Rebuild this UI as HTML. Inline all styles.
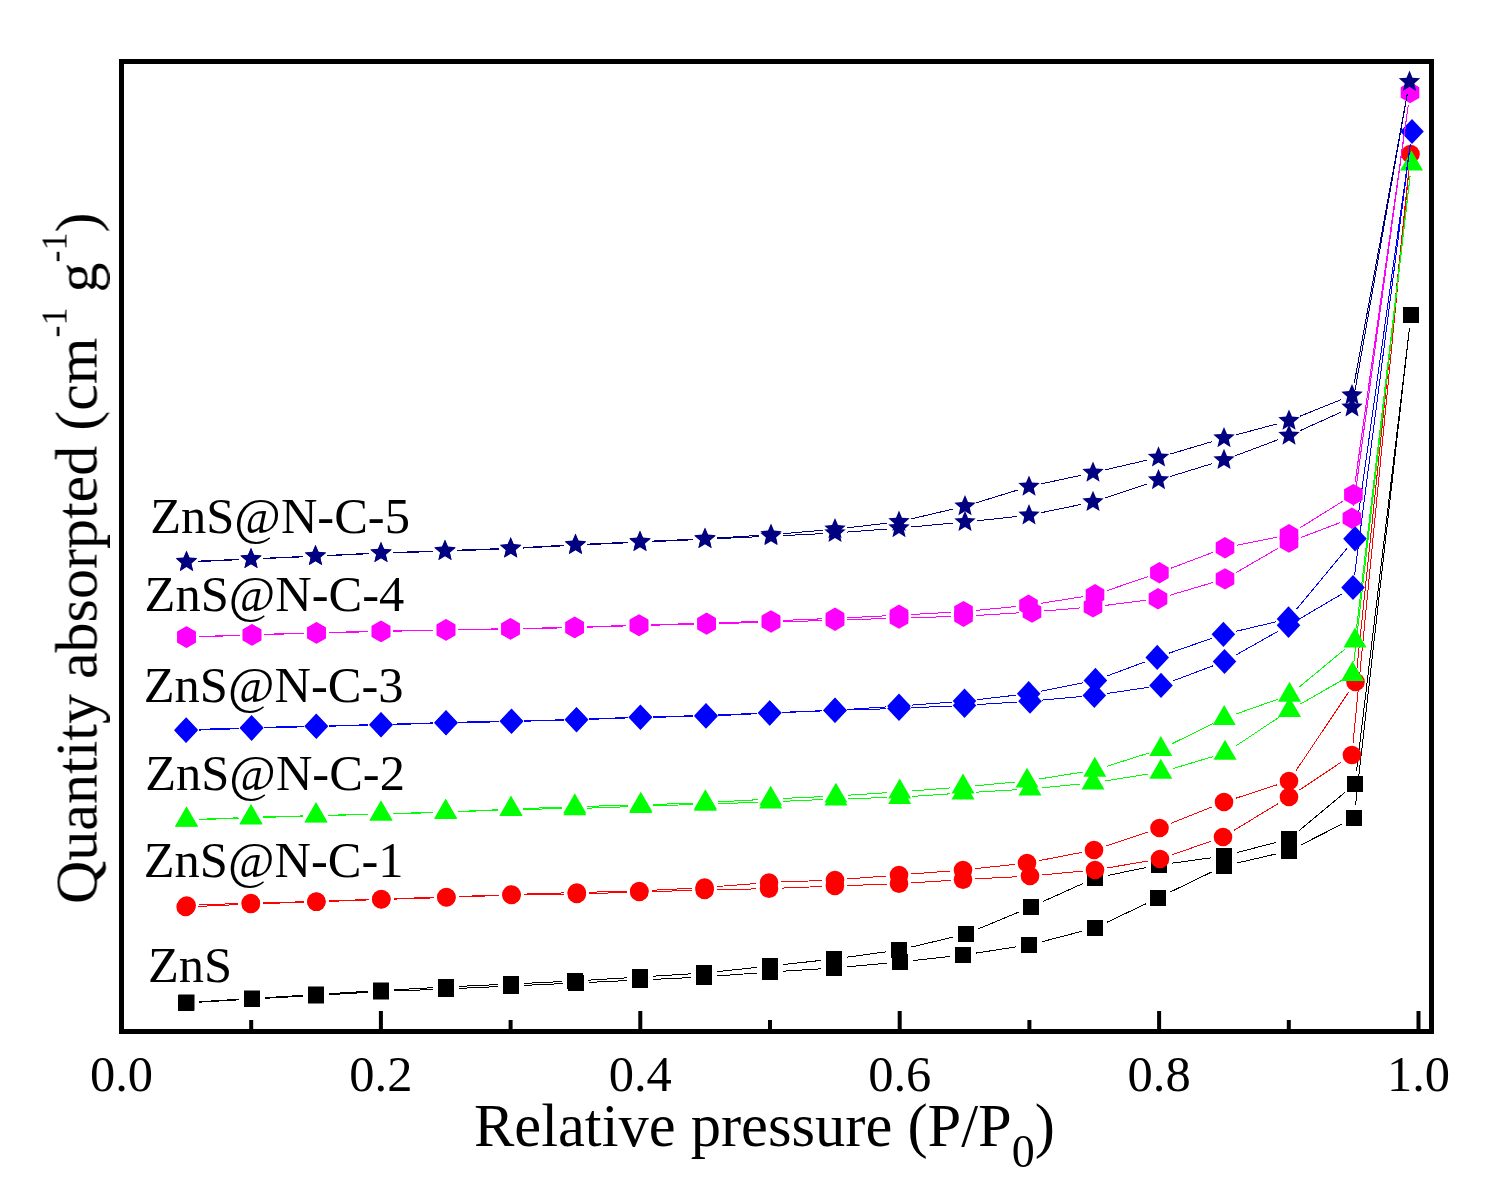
<!DOCTYPE html>
<html><head><meta charset="utf-8"><style>html,body{margin:0;padding:0;background:#fff;overflow:hidden}svg{display:block}</style></head>
<body><svg width="1493" height="1188" viewBox="0 0 1493 1188">
<rect width="1493" height="1188" fill="#fff"/>
<path d="M199.0 1002.2L239.0 999.8M265.0 998.3L303.0 996.2M329.0 994.7L368.0 992.3M394.0 991.0L433.0 989.5M459.0 988.4L498.0 986.6M524.0 985.4L563.0 983.6M589.0 982.4L627.0 980.6M653.0 979.4L691.0 977.6M717.0 976.0L757.0 973.0M783.0 971.2L821.0 968.8M846.9 966.8L887.1 963.2M912.9 960.6L950.1 956.4M975.9 953.1L1016.1 946.9M1041.6 941.8L1082.4 931.2M1106.7 922.4L1146.3 903.6M1169.7 892.3L1212.3 871.7M1236.7 863.1L1276.3 853.9M1300.6 845.1L1342.4 823.9M1355.5 805.1L1409.5 327.9M1409.5 327.9L1356.5 771.1M1345.0 792.3L1299.0 830.7M1276.4 842.3L1236.6 852.7M1211.1 857.8L1171.9 863.2M1146.3 867.6L1107.7 875.4M1083.2 883.4L1042.8 901.6M1019.0 912.0L978.0 929.0M953.4 937.0L911.6 947.0M886.1 951.8L846.9 957.2M821.1 960.4L782.9 964.6M757.1 967.4L716.9 971.6M691.0 973.8L653.0 976.2M627.0 977.8L588.0 980.2M562.0 981.6L524.0 983.4M498.0 984.6L459.0 986.4M433.0 987.7L394.0 989.8M368.0 991.3L329.0 993.7M303.0 995.3L265.0 997.7M239.0 999.3L199.5 1001.7" stroke="#000000" stroke-width="1.0" fill="none" shape-rendering="crispEdges"/><rect x="178.0" y="995.0" width="16" height="16" fill="#000000"/><rect x="244.0" y="991.0" width="16" height="16" fill="#000000"/><rect x="308.0" y="987.5" width="16" height="16" fill="#000000"/><rect x="373.0" y="983.5" width="16" height="16" fill="#000000"/><rect x="438.0" y="981.0" width="16" height="16" fill="#000000"/><rect x="503.0" y="978.0" width="16" height="16" fill="#000000"/><rect x="568.0" y="975.0" width="16" height="16" fill="#000000"/><rect x="632.0" y="972.0" width="16" height="16" fill="#000000"/><rect x="696.0" y="969.0" width="16" height="16" fill="#000000"/><rect x="762.0" y="964.0" width="16" height="16" fill="#000000"/><rect x="826.0" y="960.0" width="16" height="16" fill="#000000"/><rect x="892.0" y="954.0" width="16" height="16" fill="#000000"/><rect x="955.0" y="947.0" width="16" height="16" fill="#000000"/><rect x="1021.0" y="937.0" width="16" height="16" fill="#000000"/><rect x="1087.0" y="920.0" width="16" height="16" fill="#000000"/><rect x="1150.0" y="890.0" width="16" height="16" fill="#000000"/><rect x="1216.0" y="858.0" width="16" height="16" fill="#000000"/><rect x="1281.0" y="843.0" width="16" height="16" fill="#000000"/><rect x="1346.0" y="810.0" width="16" height="16" fill="#000000"/><rect x="1403.0" y="307.0" width="16" height="16" fill="#000000"/><rect x="1347.0" y="776.0" width="16" height="16" fill="#000000"/><rect x="1281.0" y="831.0" width="16" height="16" fill="#000000"/><rect x="1216.0" y="848.0" width="16" height="16" fill="#000000"/><rect x="1151.0" y="857.0" width="16" height="16" fill="#000000"/><rect x="1087.0" y="870.0" width="16" height="16" fill="#000000"/><rect x="1023.0" y="899.0" width="16" height="16" fill="#000000"/><rect x="958.0" y="926.0" width="16" height="16" fill="#000000"/><rect x="891.0" y="942.0" width="16" height="16" fill="#000000"/><rect x="826.0" y="951.0" width="16" height="16" fill="#000000"/><rect x="762.0" y="958.0" width="16" height="16" fill="#000000"/><rect x="696.0" y="965.0" width="16" height="16" fill="#000000"/><rect x="632.0" y="969.0" width="16" height="16" fill="#000000"/><rect x="567.0" y="973.0" width="16" height="16" fill="#000000"/><rect x="503.0" y="976.0" width="16" height="16" fill="#000000"/><rect x="438.0" y="979.0" width="16" height="16" fill="#000000"/><rect x="373.0" y="982.5" width="16" height="16" fill="#000000"/><rect x="308.0" y="986.5" width="16" height="16" fill="#000000"/><rect x="244.0" y="990.5" width="16" height="16" fill="#000000"/><rect x="178.5" y="994.5" width="16" height="16" fill="#000000"/><path d="M198.2 906.4L238.3 904.6M263.3 903.6L303.9 902.2M328.9 901.4L368.8 899.9M393.8 899.1L433.9 897.9M458.9 897.0L499.0 895.5M524.0 894.8L564.3 894.2M589.3 893.6L626.8 892.4M651.8 891.6L692.1 890.4M717.1 889.7L756.5 888.9M781.5 888.1L822.4 886.5M847.4 885.6L886.5 884.1M911.5 882.9L950.5 880.4M975.5 878.9L1017.5 876.7M1042.4 874.9L1082.6 871.1M1107.3 867.9L1147.7 861.1M1171.8 854.9L1211.2 841.1M1233.7 830.5L1278.3 803.5M1299.4 790.1L1341.5 761.9M1353.1 742.6L1409.3 166.4M1409.2 166.4L1356.8 669.6M1348.5 692.4L1296.0 770.6M1277.1 784.8L1235.9 798.2M1212.4 806.7L1171.1 823.3M1147.7 832.0L1105.8 846.0M1081.7 852.4L1039.3 860.6M1014.6 864.4L975.4 868.6M950.5 871.0L911.5 874.0M886.5 876.0L847.5 879.0M822.5 880.5L781.5 882.0M756.5 883.5L717.1 886.5M692.1 888.2L651.8 890.3M626.8 891.3L589.3 892.2M564.3 892.9L524.0 894.1M499.0 895.0L458.9 896.5M433.9 897.4L393.8 898.6M368.8 899.5L328.9 901.0M303.9 901.8L263.3 902.7M238.3 903.5L199.2 905.0" stroke="#ff0000" stroke-width="1.0" fill="none" shape-rendering="crispEdges"/><circle cx="185.7" cy="907.0" r="9.3" fill="#ff0000"/><circle cx="250.8" cy="904.0" r="9.3" fill="#ff0000"/><circle cx="316.4" cy="901.8" r="9.3" fill="#ff0000"/><circle cx="381.3" cy="899.5" r="9.3" fill="#ff0000"/><circle cx="446.4" cy="897.5" r="9.3" fill="#ff0000"/><circle cx="511.5" cy="895.0" r="9.3" fill="#ff0000"/><circle cx="576.8" cy="894.0" r="9.3" fill="#ff0000"/><circle cx="639.3" cy="892.0" r="9.3" fill="#ff0000"/><circle cx="704.6" cy="890.0" r="9.3" fill="#ff0000"/><circle cx="769.0" cy="888.6" r="9.3" fill="#ff0000"/><circle cx="834.9" cy="886.0" r="9.3" fill="#ff0000"/><circle cx="899.0" cy="883.7" r="9.3" fill="#ff0000"/><circle cx="963.0" cy="879.6" r="9.3" fill="#ff0000"/><circle cx="1030.0" cy="876.0" r="9.3" fill="#ff0000"/><circle cx="1095.0" cy="870.0" r="9.3" fill="#ff0000"/><circle cx="1160.0" cy="859.0" r="9.3" fill="#ff0000"/><circle cx="1223.0" cy="837.0" r="9.3" fill="#ff0000"/><circle cx="1289.0" cy="797.0" r="9.3" fill="#ff0000"/><circle cx="1351.9" cy="755.0" r="9.3" fill="#ff0000"/><circle cx="1410.5" cy="154.0" r="9.3" fill="#ff0000"/><circle cx="1355.5" cy="682.0" r="9.3" fill="#ff0000"/><circle cx="1289.0" cy="781.0" r="9.3" fill="#ff0000"/><circle cx="1224.0" cy="802.0" r="9.3" fill="#ff0000"/><circle cx="1159.5" cy="828.0" r="9.3" fill="#ff0000"/><circle cx="1094.0" cy="850.0" r="9.3" fill="#ff0000"/><circle cx="1027.0" cy="863.0" r="9.3" fill="#ff0000"/><circle cx="963.0" cy="870.0" r="9.3" fill="#ff0000"/><circle cx="899.0" cy="875.0" r="9.3" fill="#ff0000"/><circle cx="835.0" cy="880.0" r="9.3" fill="#ff0000"/><circle cx="769.0" cy="882.5" r="9.3" fill="#ff0000"/><circle cx="704.6" cy="887.5" r="9.3" fill="#ff0000"/><circle cx="639.3" cy="891.0" r="9.3" fill="#ff0000"/><circle cx="576.8" cy="892.5" r="9.3" fill="#ff0000"/><circle cx="511.5" cy="894.5" r="9.3" fill="#ff0000"/><circle cx="446.4" cy="897.0" r="9.3" fill="#ff0000"/><circle cx="381.3" cy="899.0" r="9.3" fill="#ff0000"/><circle cx="316.4" cy="901.5" r="9.3" fill="#ff0000"/><circle cx="250.8" cy="903.0" r="9.3" fill="#ff0000"/><circle cx="186.7" cy="905.5" r="9.3" fill="#ff0000"/><path d="M199.0 819.6L238.5 818.2M263.5 817.4L303.5 816.2M328.5 815.5L368.5 814.4M393.5 813.7L433.2 812.7M458.2 811.8L498.5 810.0M523.5 809.2L562.3 808.8M587.3 808.2L628.3 806.7M653.3 805.9L692.9 804.5M717.9 803.7L758.2 802.3M783.2 801.3L823.4 799.5M848.4 798.6L887.2 797.6M912.2 796.4L950.5 793.8M975.5 792.2L1017.5 789.7M1042.4 787.8L1080.6 784.0M1105.3 780.9L1148.5 774.0M1172.8 768.6L1213.0 756.6M1235.4 746.2L1279.1 717.2M1300.3 704.1L1341.7 680.4M1353.9 661.8L1410.1 176.2M1410.0 176.2L1356.5 628.4M1345.4 648.8L1299.1 687.1M1277.7 699.3L1236.0 714.0M1213.0 723.7L1172.0 743.7M1148.9 753.0L1106.7 766.3M1082.5 772.1L1039.3 779.0M1014.6 782.1L975.4 785.8M950.5 787.9L912.2 790.9M887.2 792.7L848.4 795.2M823.4 796.6L783.2 798.4M758.2 799.7L717.9 801.9M692.9 803.1L653.3 804.5M628.3 805.3L587.3 806.3M562.3 807.1L523.5 808.6M498.5 809.7L458.2 811.5M433.2 812.4L393.5 813.5M368.5 814.1L328.5 815.3M303.5 815.9L263.5 817.0M238.5 817.8L199.0 819.3" stroke="#00ff00" stroke-width="1.0" fill="none" shape-rendering="crispEdges"/><polygon points="186.5,806.8 198.0,826.8 175.0,826.8" fill="#00ff00"/><polygon points="251.0,804.4 262.5,824.4 239.5,824.4" fill="#00ff00"/><polygon points="316.0,802.6 327.5,822.5 304.5,822.5" fill="#00ff00"/><polygon points="381.0,800.7 392.5,820.6 369.5,820.6" fill="#00ff00"/><polygon points="445.7,799.1 457.2,819.0 434.2,819.0" fill="#00ff00"/><polygon points="511.0,796.1 522.5,816.0 499.5,816.0" fill="#00ff00"/><polygon points="574.8,795.3 586.3,815.2 563.3,815.2" fill="#00ff00"/><polygon points="640.8,793.0 652.3,813.0 629.3,813.0" fill="#00ff00"/><polygon points="705.4,790.8 716.9,810.8 693.9,810.8" fill="#00ff00"/><polygon points="770.7,788.6 782.2,808.5 759.2,808.5" fill="#00ff00"/><polygon points="835.9,785.6 847.4,805.5 824.4,805.5" fill="#00ff00"/><polygon points="899.7,784.0 911.2,804.0 888.2,804.0" fill="#00ff00"/><polygon points="963.0,779.6 974.5,799.5 951.5,799.5" fill="#00ff00"/><polygon points="1030.0,775.7 1041.5,795.6 1018.5,795.6" fill="#00ff00"/><polygon points="1093.0,769.5 1104.5,789.5 1081.5,789.5" fill="#00ff00"/><polygon points="1160.8,758.8 1172.3,778.8 1149.3,778.8" fill="#00ff00"/><polygon points="1225.0,739.8 1236.5,759.8 1213.5,759.8" fill="#00ff00"/><polygon points="1289.5,697.0 1301.0,717.0 1278.0,717.0" fill="#00ff00"/><polygon points="1352.5,660.9 1364.0,680.9 1341.0,680.9" fill="#00ff00"/><polygon points="1411.5,150.5 1423.0,170.4 1400.0,170.4" fill="#00ff00"/><polygon points="1355.0,627.5 1366.5,647.4 1343.5,647.4" fill="#00ff00"/><polygon points="1289.5,681.8 1301.0,701.8 1278.0,701.8" fill="#00ff00"/><polygon points="1224.2,704.9 1235.7,724.9 1212.7,724.9" fill="#00ff00"/><polygon points="1160.8,735.9 1172.3,755.9 1149.3,755.9" fill="#00ff00"/><polygon points="1094.8,756.8 1106.3,776.8 1083.3,776.8" fill="#00ff00"/><polygon points="1027.0,767.7 1038.5,787.6 1015.5,787.6" fill="#00ff00"/><polygon points="963.0,773.6 974.5,793.5 951.5,793.5" fill="#00ff00"/><polygon points="899.7,778.6 911.2,798.5 888.2,798.5" fill="#00ff00"/><polygon points="835.9,782.7 847.4,802.6 824.4,802.6" fill="#00ff00"/><polygon points="770.7,785.7 782.2,805.6 759.2,805.6" fill="#00ff00"/><polygon points="705.4,789.3 716.9,809.2 693.9,809.2" fill="#00ff00"/><polygon points="640.8,791.7 652.3,811.6 629.3,811.6" fill="#00ff00"/><polygon points="574.8,793.3 586.3,813.2 563.3,813.2" fill="#00ff00"/><polygon points="511.0,795.8 522.5,815.8 499.5,815.8" fill="#00ff00"/><polygon points="445.7,798.8 457.2,818.8 434.2,818.8" fill="#00ff00"/><polygon points="381.0,800.5 392.5,820.5 369.5,820.5" fill="#00ff00"/><polygon points="316.0,802.3 327.5,822.2 304.5,822.2" fill="#00ff00"/><polygon points="251.0,804.0 262.5,823.9 239.5,823.9" fill="#00ff00"/><polygon points="186.5,806.5 198.0,826.4 175.0,826.4" fill="#00ff00"/><path d="M198.5 730.1L239.1 728.7M264.1 728.0L303.8 726.8M328.8 726.2L368.5 725.2M393.5 724.5L433.5 723.4M458.5 722.7L499.0 721.8M524.0 721.2L564.0 720.1M589.0 719.4L627.9 717.9M652.9 717.3L693.5 716.4M718.5 715.6L757.2 713.7M782.2 712.6L822.5 710.9M847.5 710.0L886.5 708.8M911.5 707.8L952.0 706.0M977.0 704.6L1017.5 702.0M1042.4 700.1L1081.9 696.5M1106.7 693.5L1148.6 687.3M1172.7 681.0L1212.8 665.9M1235.4 655.3L1277.6 631.5M1299.3 619.0L1342.2 593.8M1354.6 575.1L1410.4 143.9M1410.3 143.9L1356.7 526.4M1347.0 548.4L1296.5 609.3M1276.3 621.8L1235.6 631.4M1211.6 638.4L1169.0 653.2M1145.5 661.7L1107.1 676.0M1083.1 682.8L1041.0 691.3M1016.3 695.1L976.9 699.7M952.0 702.1L911.5 705.1M886.5 706.9L847.5 709.4M822.5 710.7L782.2 712.3M757.2 713.3L718.5 715.0M693.5 715.8L652.9 716.7M627.9 717.5L589.0 719.0M564.0 719.8L524.0 720.7M499.0 721.3L458.5 722.2M433.5 722.9L393.5 724.1M368.5 724.8L328.8 725.7M303.8 726.3L264.1 727.3M239.1 728.0L198.7 729.4" stroke="#0000ff" stroke-width="1.0" fill="none" shape-rendering="crispEdges"/><polygon points="186.0,717.9 197.8,730.5 186.0,743.1 174.2,730.5" fill="#0000ff"/><polygon points="251.6,715.7 263.4,728.3 251.6,740.9 239.8,728.3" fill="#0000ff"/><polygon points="316.3,713.9 328.1,726.5 316.3,739.1 304.5,726.5" fill="#0000ff"/><polygon points="381.0,712.3 392.8,724.9 381.0,737.5 369.2,724.9" fill="#0000ff"/><polygon points="446.0,710.4 457.8,723.0 446.0,735.6 434.2,723.0" fill="#0000ff"/><polygon points="511.5,708.9 523.3,721.5 511.5,734.1 499.7,721.5" fill="#0000ff"/><polygon points="576.5,707.2 588.3,719.8 576.5,732.4 564.7,719.8" fill="#0000ff"/><polygon points="640.4,704.9 652.2,717.5 640.4,730.1 628.6,717.5" fill="#0000ff"/><polygon points="706.0,703.6 717.8,716.2 706.0,728.8 694.2,716.2" fill="#0000ff"/><polygon points="769.7,700.5 781.5,713.1 769.7,725.7 757.9,713.1" fill="#0000ff"/><polygon points="835.0,697.8 846.8,710.4 835.0,723.0 823.2,710.4" fill="#0000ff"/><polygon points="899.0,695.8 910.8,708.4 899.0,721.0 887.2,708.4" fill="#0000ff"/><polygon points="964.5,692.8 976.3,705.4 964.5,718.0 952.7,705.4" fill="#0000ff"/><polygon points="1030.0,688.6 1041.8,701.2 1030.0,713.8 1018.2,701.2" fill="#0000ff"/><polygon points="1094.3,682.8 1106.1,695.4 1094.3,708.0 1082.5,695.4" fill="#0000ff"/><polygon points="1161.0,672.8 1172.8,685.4 1161.0,698.0 1149.2,685.4" fill="#0000ff"/><polygon points="1224.5,648.9 1236.3,661.5 1224.5,674.1 1212.7,661.5" fill="#0000ff"/><polygon points="1288.5,612.7 1300.3,625.3 1288.5,637.9 1276.7,625.3" fill="#0000ff"/><polygon points="1353.0,574.9 1364.8,587.5 1353.0,600.1 1341.2,587.5" fill="#0000ff"/><polygon points="1412.0,118.9 1423.8,131.5 1412.0,144.1 1400.2,131.5" fill="#0000ff"/><polygon points="1355.0,526.1 1366.8,538.8 1355.0,551.4 1343.2,538.8" fill="#0000ff"/><polygon points="1288.5,606.3 1300.3,618.9 1288.5,631.5 1276.7,618.9" fill="#0000ff"/><polygon points="1223.4,621.7 1235.2,634.3 1223.4,646.9 1211.6,634.3" fill="#0000ff"/><polygon points="1157.2,644.8 1169.0,657.4 1157.2,670.0 1145.4,657.4" fill="#0000ff"/><polygon points="1095.4,667.8 1107.2,680.4 1095.4,693.0 1083.6,680.4" fill="#0000ff"/><polygon points="1028.7,681.1 1040.5,693.7 1028.7,706.3 1016.9,693.7" fill="#0000ff"/><polygon points="964.5,688.5 976.3,701.1 964.5,713.7 952.7,701.1" fill="#0000ff"/><polygon points="899.0,693.5 910.8,706.1 899.0,718.7 887.2,706.1" fill="#0000ff"/><polygon points="835.0,697.6 846.8,710.2 835.0,722.8 823.2,710.2" fill="#0000ff"/><polygon points="769.7,700.2 781.5,712.8 769.7,725.4 757.9,712.8" fill="#0000ff"/><polygon points="706.0,702.9 717.8,715.5 706.0,728.1 694.2,715.5" fill="#0000ff"/><polygon points="640.4,704.4 652.2,717.0 640.4,729.6 628.6,717.0" fill="#0000ff"/><polygon points="576.5,706.9 588.3,719.5 576.5,732.1 564.7,719.5" fill="#0000ff"/><polygon points="511.5,708.4 523.3,721.0 511.5,733.6 499.7,721.0" fill="#0000ff"/><polygon points="446.0,709.9 457.8,722.5 446.0,735.1 434.2,722.5" fill="#0000ff"/><polygon points="381.0,711.9 392.8,724.5 381.0,737.1 369.2,724.5" fill="#0000ff"/><polygon points="316.3,713.4 328.1,726.0 316.3,738.6 304.5,726.0" fill="#0000ff"/><polygon points="251.6,715.0 263.4,727.6 251.6,740.2 239.8,727.6" fill="#0000ff"/><polygon points="186.2,717.2 198.0,729.8 186.2,742.4 174.4,729.8" fill="#0000ff"/><path d="M199.0 636.9L239.5 635.4M264.5 634.6L304.0 633.4M329.0 632.7L368.5 631.8M393.5 631.2L433.5 630.3M458.5 629.8L498.0 629.2M523.0 628.7L562.2 627.9M587.2 627.2L626.5 625.9M651.5 625.2L694.1 624.3M719.1 623.6L758.5 622.4M783.5 621.7L822.5 620.6M847.5 619.9L886.5 618.4M911.5 617.7L951.0 616.6M976.0 615.5L1019.5 612.8M1044.5 611.0L1080.5 607.9M1105.4 605.4L1145.6 600.3M1170.0 595.2L1213.0 582.5M1235.8 572.7L1278.2 548.2M1300.7 537.6L1340.2 522.6M1353.6 505.8L1408.3 104.9M1408.3 104.9L1355.1 482.2M1342.8 501.2L1299.6 528.1M1276.8 537.2L1237.2 545.2M1213.3 552.2L1171.1 568.2M1147.6 576.7L1106.8 590.7M1082.7 596.7L1040.8 603.3M1016.1 606.5L975.9 610.4M951.0 612.3L911.5 614.5M886.5 615.8L847.5 617.7M822.5 618.8L783.5 620.4M758.5 621.4L719.1 622.8M694.1 623.6L651.5 624.7M626.5 625.4L587.2 626.9M562.2 627.6L523.0 628.4M498.0 628.9L458.5 629.5M433.5 630.0L393.5 630.9M368.5 631.5L329.0 632.4M304.0 633.1L264.5 634.3M239.5 635.1L199.0 636.6" stroke="#ff00ff" stroke-width="1.0" fill="none" shape-rendering="crispEdges"/><polygon points="186.5,626.6 177.2,631.9 177.2,642.6 186.5,648.0 195.8,642.6 195.8,631.9" fill="#ff00ff"/><polygon points="252.0,624.3 242.7,629.6 242.7,640.4 252.0,645.7 261.3,640.4 261.3,629.6" fill="#ff00ff"/><polygon points="316.5,622.3 307.2,627.6 307.2,638.4 316.5,643.7 325.8,638.4 325.8,627.6" fill="#ff00ff"/><polygon points="381.0,620.8 371.7,626.1 371.7,636.9 381.0,642.2 390.3,636.9 390.3,626.1" fill="#ff00ff"/><polygon points="446.0,619.3 436.7,624.6 436.7,635.4 446.0,640.7 455.3,635.4 455.3,624.6" fill="#ff00ff"/><polygon points="510.5,618.3 501.2,623.6 501.2,634.4 510.5,639.7 519.8,634.4 519.8,623.6" fill="#ff00ff"/><polygon points="574.7,616.9 565.4,622.2 565.4,633.0 574.7,638.3 584.0,633.0 584.0,622.2" fill="#ff00ff"/><polygon points="639.0,614.8 629.7,620.1 629.7,630.9 639.0,636.2 648.3,630.9 648.3,620.1" fill="#ff00ff"/><polygon points="706.6,613.3 697.3,618.6 697.3,629.4 706.6,634.7 715.9,629.4 715.9,618.6" fill="#ff00ff"/><polygon points="771.0,611.3 761.7,616.6 761.7,627.4 771.0,632.7 780.3,627.4 780.3,616.6" fill="#ff00ff"/><polygon points="835.0,609.6 825.7,614.9 825.7,625.6 835.0,631.0 844.3,625.6 844.3,614.9" fill="#ff00ff"/><polygon points="899.0,607.3 889.7,612.6 889.7,623.4 899.0,628.7 908.3,623.4 908.3,612.6" fill="#ff00ff"/><polygon points="963.5,605.6 954.2,610.9 954.2,621.6 963.5,627.0 972.8,621.6 972.8,610.9" fill="#ff00ff"/><polygon points="1032.0,601.3 1022.7,606.6 1022.7,617.4 1032.0,622.7 1041.3,617.4 1041.3,606.6" fill="#ff00ff"/><polygon points="1093.0,596.2 1083.7,601.5 1083.7,612.2 1093.0,617.6 1102.3,612.2 1102.3,601.5" fill="#ff00ff"/><polygon points="1158.0,588.1 1148.7,593.4 1148.7,604.1 1158.0,609.5 1167.3,604.1 1167.3,593.4" fill="#ff00ff"/><polygon points="1225.0,568.2 1215.7,573.5 1215.7,584.2 1225.0,589.6 1234.3,584.2 1234.3,573.5" fill="#ff00ff"/><polygon points="1289.0,531.3 1279.7,536.6 1279.7,547.4 1289.0,552.7 1298.3,547.4 1298.3,536.6" fill="#ff00ff"/><polygon points="1351.9,507.5 1342.6,512.9 1342.6,523.6 1351.9,528.9 1361.2,523.6 1361.2,512.9" fill="#ff00ff"/><polygon points="1410.0,81.8 1400.7,87.2 1400.7,97.8 1410.0,103.2 1419.3,97.9 1419.3,87.2" fill="#ff00ff"/><polygon points="1353.4,483.9 1344.1,489.2 1344.1,500.0 1353.4,505.3 1362.7,500.0 1362.7,489.2" fill="#ff00ff"/><polygon points="1289.0,524.0 1279.7,529.4 1279.7,540.1 1289.0,545.4 1298.3,540.1 1298.3,529.4" fill="#ff00ff"/><polygon points="1225.0,537.0 1215.7,542.4 1215.7,553.1 1225.0,558.4 1234.3,553.1 1234.3,542.4" fill="#ff00ff"/><polygon points="1159.4,562.0 1150.1,567.4 1150.1,578.1 1159.4,583.4 1168.7,578.1 1168.7,567.4" fill="#ff00ff"/><polygon points="1095.0,584.0 1085.7,589.4 1085.7,600.1 1095.0,605.4 1104.3,600.1 1104.3,589.4" fill="#ff00ff"/><polygon points="1028.5,594.6 1019.2,599.9 1019.2,610.6 1028.5,616.0 1037.8,610.6 1037.8,599.9" fill="#ff00ff"/><polygon points="963.5,600.9 954.2,606.2 954.2,617.0 963.5,622.3 972.8,617.0 972.8,606.2" fill="#ff00ff"/><polygon points="899.0,604.5 889.7,609.9 889.7,620.6 899.0,625.9 908.3,620.6 908.3,609.9" fill="#ff00ff"/><polygon points="835.0,607.6 825.7,612.9 825.7,623.6 835.0,629.0 844.3,623.6 844.3,612.9" fill="#ff00ff"/><polygon points="771.0,610.2 761.7,615.5 761.7,626.2 771.0,631.6 780.3,626.2 780.3,615.5" fill="#ff00ff"/><polygon points="706.6,612.6 697.3,617.9 697.3,628.6 706.6,634.0 715.9,628.6 715.9,617.9" fill="#ff00ff"/><polygon points="639.0,614.3 629.7,619.6 629.7,630.4 639.0,635.7 648.3,630.4 648.3,619.6" fill="#ff00ff"/><polygon points="574.7,616.6 565.4,621.9 565.4,632.6 574.7,638.0 584.0,632.6 584.0,621.9" fill="#ff00ff"/><polygon points="510.5,618.0 501.2,623.4 501.2,634.1 510.5,639.4 519.8,634.1 519.8,623.4" fill="#ff00ff"/><polygon points="446.0,619.0 436.7,624.4 436.7,635.1 446.0,640.4 455.3,635.1 455.3,624.4" fill="#ff00ff"/><polygon points="381.0,620.5 371.7,625.9 371.7,636.6 381.0,641.9 390.3,636.6 390.3,625.9" fill="#ff00ff"/><polygon points="316.5,622.0 307.2,627.4 307.2,638.1 316.5,643.4 325.8,638.1 325.8,627.4" fill="#ff00ff"/><polygon points="252.0,624.0 242.7,629.4 242.7,640.1 252.0,645.4 261.3,640.1 261.3,629.4" fill="#ff00ff"/><polygon points="186.5,626.3 177.2,631.6 177.2,642.4 186.5,647.7 195.8,642.4 195.8,631.6" fill="#ff00ff"/><path d="M198.5 561.6L239.0 559.7M263.0 558.6L303.5 556.8M327.5 555.7L369.0 553.7M393.0 552.8L433.0 551.6M457.0 550.7L498.7 549.2M522.7 548.1L563.5 545.8M587.5 544.6L628.0 542.8M652.0 541.6L693.0 539.8M717.0 538.7L759.0 536.7M783.0 535.6L823.0 533.6M847.0 532.1L887.0 529.0M910.9 527.0L953.1 523.1M976.9 520.8L1017.1 516.5M1040.7 512.8L1081.3 504.4M1104.4 498.1L1147.1 483.9M1170.0 476.6L1212.5 463.5M1235.2 455.8L1277.8 439.8M1299.9 430.7L1341.1 412.2M1354.1 395.5L1407.4 93.6M1407.3 93.6L1354.2 383.4M1340.9 399.7L1300.1 416.2M1277.4 423.8L1235.6 435.0M1212.5 441.5L1170.0 454.1M1146.8 460.2L1104.7 469.9M1081.3 475.2L1040.7 484.0M1017.5 490.1L976.5 502.7M953.3 509.0L910.7 519.0M887.1 523.2L846.9 527.8M823.0 530.2L783.0 533.7M759.0 535.4L717.0 538.0M693.0 539.3L652.0 541.1M628.0 542.3L587.5 544.1M563.5 545.3L522.7 547.6M498.7 548.7L457.0 550.2M433.0 551.1L393.0 552.5M369.0 553.4L327.5 555.4M303.5 556.5L263.0 558.3M239.0 559.4L198.5 561.1" stroke="#000080" stroke-width="1.0" fill="none" shape-rendering="crispEdges"/><polygon points="186.5,550.9 189.5,558.0 197.2,558.6 191.3,563.7 193.1,571.2 186.5,567.1 179.9,571.2 181.7,563.7 175.8,558.6 183.5,558.0" fill="#000080"/><polygon points="251.0,548.0 254.0,555.1 261.7,555.7 255.8,560.8 257.6,568.3 251.0,564.2 244.4,568.3 246.2,560.8 240.3,555.7 248.0,555.1" fill="#000080"/><polygon points="315.5,545.0 318.5,552.1 326.2,552.7 320.3,557.8 322.1,565.3 315.5,561.2 308.9,565.3 310.7,557.8 304.8,552.7 312.5,552.1" fill="#000080"/><polygon points="381.0,542.0 384.0,549.1 391.7,549.7 385.8,554.8 387.6,562.3 381.0,558.2 374.4,562.3 376.2,554.8 370.3,549.7 378.0,549.1" fill="#000080"/><polygon points="445.0,540.0 448.0,547.1 455.7,547.7 449.8,552.8 451.6,560.3 445.0,556.2 438.4,560.3 440.2,552.8 434.3,547.7 442.0,547.1" fill="#000080"/><polygon points="510.7,537.5 513.7,544.6 521.4,545.2 515.5,550.3 517.3,557.8 510.7,553.7 504.1,557.8 505.9,550.3 500.0,545.2 507.7,544.6" fill="#000080"/><polygon points="575.5,534.0 578.5,541.1 586.2,541.7 580.3,546.8 582.1,554.3 575.5,550.2 568.9,554.3 570.7,546.8 564.8,541.7 572.5,541.1" fill="#000080"/><polygon points="640.0,531.0 643.0,538.1 650.7,538.7 644.8,543.8 646.6,551.3 640.0,547.2 633.4,551.3 635.2,543.8 629.3,538.7 637.0,538.1" fill="#000080"/><polygon points="705.0,528.0 708.0,535.1 715.7,535.7 709.8,540.8 711.6,548.3 705.0,544.2 698.4,548.3 700.2,540.8 694.3,535.7 702.0,535.1" fill="#000080"/><polygon points="771.0,525.0 774.0,532.1 781.7,532.7 775.8,537.8 777.6,545.3 771.0,541.2 764.4,545.3 766.2,537.8 760.3,532.7 768.0,532.1" fill="#000080"/><polygon points="835.0,521.8 838.0,528.9 845.7,529.5 839.8,534.6 841.6,542.1 835.0,538.0 828.4,542.1 830.2,534.6 824.3,529.5 832.0,528.9" fill="#000080"/><polygon points="899.0,516.9 902.0,524.0 909.7,524.6 903.8,529.7 905.6,537.2 899.0,533.1 892.4,537.2 894.2,529.7 888.3,524.6 896.0,524.0" fill="#000080"/><polygon points="965.0,510.8 968.0,517.9 975.7,518.5 969.8,523.6 971.6,531.1 965.0,527.0 958.4,531.1 960.2,523.6 954.3,518.5 962.0,517.9" fill="#000080"/><polygon points="1029.0,504.1 1032.0,511.2 1039.7,511.8 1033.8,516.9 1035.6,524.4 1029.0,520.3 1022.4,524.4 1024.2,516.9 1018.3,511.8 1026.0,511.2" fill="#000080"/><polygon points="1093.0,490.7 1096.0,497.8 1103.7,498.4 1097.8,503.5 1099.6,511.0 1093.0,506.9 1086.4,511.0 1088.2,503.5 1082.3,498.4 1090.0,497.8" fill="#000080"/><polygon points="1158.5,468.9 1161.5,476.0 1169.2,476.6 1163.3,481.7 1165.1,489.2 1158.5,485.1 1151.9,489.2 1153.7,481.7 1147.8,476.6 1155.5,476.0" fill="#000080"/><polygon points="1224.0,448.8 1227.0,455.9 1234.7,456.5 1228.8,461.6 1230.6,469.1 1224.0,465.0 1217.4,469.1 1219.2,461.6 1213.3,456.5 1221.0,455.9" fill="#000080"/><polygon points="1289.0,424.4 1292.0,431.5 1299.7,432.1 1293.8,437.2 1295.6,444.7 1289.0,440.6 1282.4,444.7 1284.2,437.2 1278.3,432.1 1286.0,431.5" fill="#000080"/><polygon points="1352.0,396.1 1355.0,403.2 1362.7,403.8 1356.8,408.9 1358.6,416.4 1352.0,412.3 1345.4,416.4 1347.2,408.9 1341.3,403.8 1349.0,403.2" fill="#000080"/><polygon points="1409.5,70.6 1412.5,77.7 1420.2,78.3 1414.3,83.4 1416.1,90.9 1409.5,86.8 1402.9,90.9 1404.7,83.4 1398.8,78.3 1406.5,77.7" fill="#000080"/><polygon points="1352.0,384.0 1355.0,391.1 1362.7,391.7 1356.8,396.8 1358.6,404.3 1352.0,400.2 1345.4,404.3 1347.2,396.8 1341.3,391.7 1349.0,391.1" fill="#000080"/><polygon points="1289.0,409.5 1292.0,416.6 1299.7,417.2 1293.8,422.3 1295.6,429.8 1289.0,425.7 1282.4,429.8 1284.2,422.3 1278.3,417.2 1286.0,416.6" fill="#000080"/><polygon points="1224.0,426.9 1227.0,434.0 1234.7,434.6 1228.8,439.7 1230.6,447.2 1224.0,443.1 1217.4,447.2 1219.2,439.7 1213.3,434.6 1221.0,434.0" fill="#000080"/><polygon points="1158.5,446.3 1161.5,453.4 1169.2,454.0 1163.3,459.1 1165.1,466.6 1158.5,462.5 1151.9,466.6 1153.7,459.1 1147.8,454.0 1155.5,453.4" fill="#000080"/><polygon points="1093.0,461.4 1096.0,468.5 1103.7,469.1 1097.8,474.2 1099.6,481.7 1093.0,477.6 1086.4,481.7 1088.2,474.2 1082.3,469.1 1090.0,468.5" fill="#000080"/><polygon points="1029.0,475.4 1032.0,482.5 1039.7,483.1 1033.8,488.2 1035.6,495.7 1029.0,491.6 1022.4,495.7 1024.2,488.2 1018.3,483.1 1026.0,482.5" fill="#000080"/><polygon points="965.0,495.0 968.0,502.1 975.7,502.7 969.8,507.8 971.6,515.3 965.0,511.2 958.4,515.3 960.2,507.8 954.3,502.7 962.0,502.1" fill="#000080"/><polygon points="899.0,510.6 902.0,517.7 909.7,518.3 903.8,523.4 905.6,530.9 899.0,526.8 892.4,530.9 894.2,523.4 888.3,518.3 896.0,517.7" fill="#000080"/><polygon points="835.0,518.0 838.0,525.1 845.7,525.7 839.8,530.8 841.6,538.3 835.0,534.2 828.4,538.3 830.2,530.8 824.3,525.7 832.0,525.1" fill="#000080"/><polygon points="771.0,523.5 774.0,530.6 781.7,531.2 775.8,536.3 777.6,543.8 771.0,539.7 764.4,543.8 766.2,536.3 760.3,531.2 768.0,530.6" fill="#000080"/><polygon points="705.0,527.5 708.0,534.6 715.7,535.2 709.8,540.3 711.6,547.8 705.0,543.7 698.4,547.8 700.2,540.3 694.3,535.2 702.0,534.6" fill="#000080"/><polygon points="640.0,530.5 643.0,537.6 650.7,538.2 644.8,543.3 646.6,550.8 640.0,546.7 633.4,550.8 635.2,543.3 629.3,538.2 637.0,537.6" fill="#000080"/><polygon points="575.5,533.5 578.5,540.6 586.2,541.2 580.3,546.3 582.1,553.8 575.5,549.7 568.9,553.8 570.7,546.3 564.8,541.2 572.5,540.6" fill="#000080"/><polygon points="510.7,537.0 513.7,544.1 521.4,544.7 515.5,549.8 517.3,557.3 510.7,553.2 504.1,557.3 505.9,549.8 500.0,544.7 507.7,544.1" fill="#000080"/><polygon points="445.0,539.5 448.0,546.6 455.7,547.2 449.8,552.3 451.6,559.8 445.0,555.7 438.4,559.8 440.2,552.3 434.3,547.2 442.0,546.6" fill="#000080"/><polygon points="381.0,541.7 384.0,548.8 391.7,549.4 385.8,554.5 387.6,562.0 381.0,557.9 374.4,562.0 376.2,554.5 370.3,549.4 378.0,548.8" fill="#000080"/><polygon points="315.5,544.7 318.5,551.8 326.2,552.4 320.3,557.5 322.1,565.0 315.5,560.9 308.9,565.0 310.7,557.5 304.8,552.4 312.5,551.8" fill="#000080"/><polygon points="251.0,547.7 254.0,554.8 261.7,555.4 255.8,560.5 257.6,568.0 251.0,563.9 244.4,568.0 246.2,560.5 240.3,555.4 248.0,554.8" fill="#000080"/><polygon points="186.5,550.4 189.5,557.5 197.2,558.1 191.3,563.2 193.1,570.7 186.5,566.6 179.9,570.7 181.7,563.2 175.8,558.1 183.5,557.5" fill="#000080"/>
<g font-family='"Liberation Serif", serif' font-size="50.5" fill="#000" style="filter:grayscale(1)"><text x="150.2" y="532.8">ZnS&#64;N-C-5</text><text x="144.6" y="611.3">ZnS&#64;N-C-4</text><text x="143.75" y="701.9">ZnS&#64;N-C-3</text><text x="145.2" y="790.3">ZnS&#64;N-C-2</text><text x="143.75" y="877.1">ZnS&#64;N-C-1</text><text x="147.9" y="981.6">ZnS</text></g>
<rect x="249.2" y="1020" width="4" height="11" fill="#000"/><rect x="378.9" y="1011" width="4" height="20" fill="#000"/><rect x="508.6" y="1020" width="4" height="11" fill="#000"/><rect x="638.3" y="1011" width="4" height="20" fill="#000"/><rect x="768.0" y="1020" width="4" height="11" fill="#000"/><rect x="897.7" y="1011" width="4" height="20" fill="#000"/><rect x="1027.4" y="1020" width="4" height="11" fill="#000"/><rect x="1157.1" y="1011" width="4" height="20" fill="#000"/><rect x="1286.8" y="1020" width="4" height="11" fill="#000"/><rect x="1416.5" y="1011" width="4" height="20" fill="#000"/>
<rect x="121.5" y="61.5" width="1310" height="970" fill="none" stroke="#000" stroke-width="5"/>
<g style="filter:grayscale(1)"><g font-family='"Liberation Serif", serif' font-size="50.5" fill="#000"><text x="121.5" y="1091" text-anchor="middle">0.0</text><text x="380.9" y="1091" text-anchor="middle">0.2</text><text x="640.3" y="1091" text-anchor="middle">0.4</text><text x="899.7" y="1091" text-anchor="middle">0.6</text><text x="1159.1" y="1091" text-anchor="middle">0.8</text><text x="1418.5" y="1091" text-anchor="middle">1.0</text></g>
<text font-family='"Liberation Serif", serif' font-size="60.5" x="474" y="1146">Relative pressure (P/P<tspan font-size="46" dy="20.5">0</tspan><tspan dy="-20.5">)</tspan></text>
<text font-family='"Liberation Serif", serif' font-size="60" transform="translate(96.5 904) rotate(-90)">Quantity absorpted (cm<tspan font-size="36" dy="-30.5">-1</tspan><tspan dy="30.5"> g</tspan><tspan font-size="36" dy="-30.5">-1</tspan><tspan dy="30.5">)</tspan></text></g>
</svg></body></html>
